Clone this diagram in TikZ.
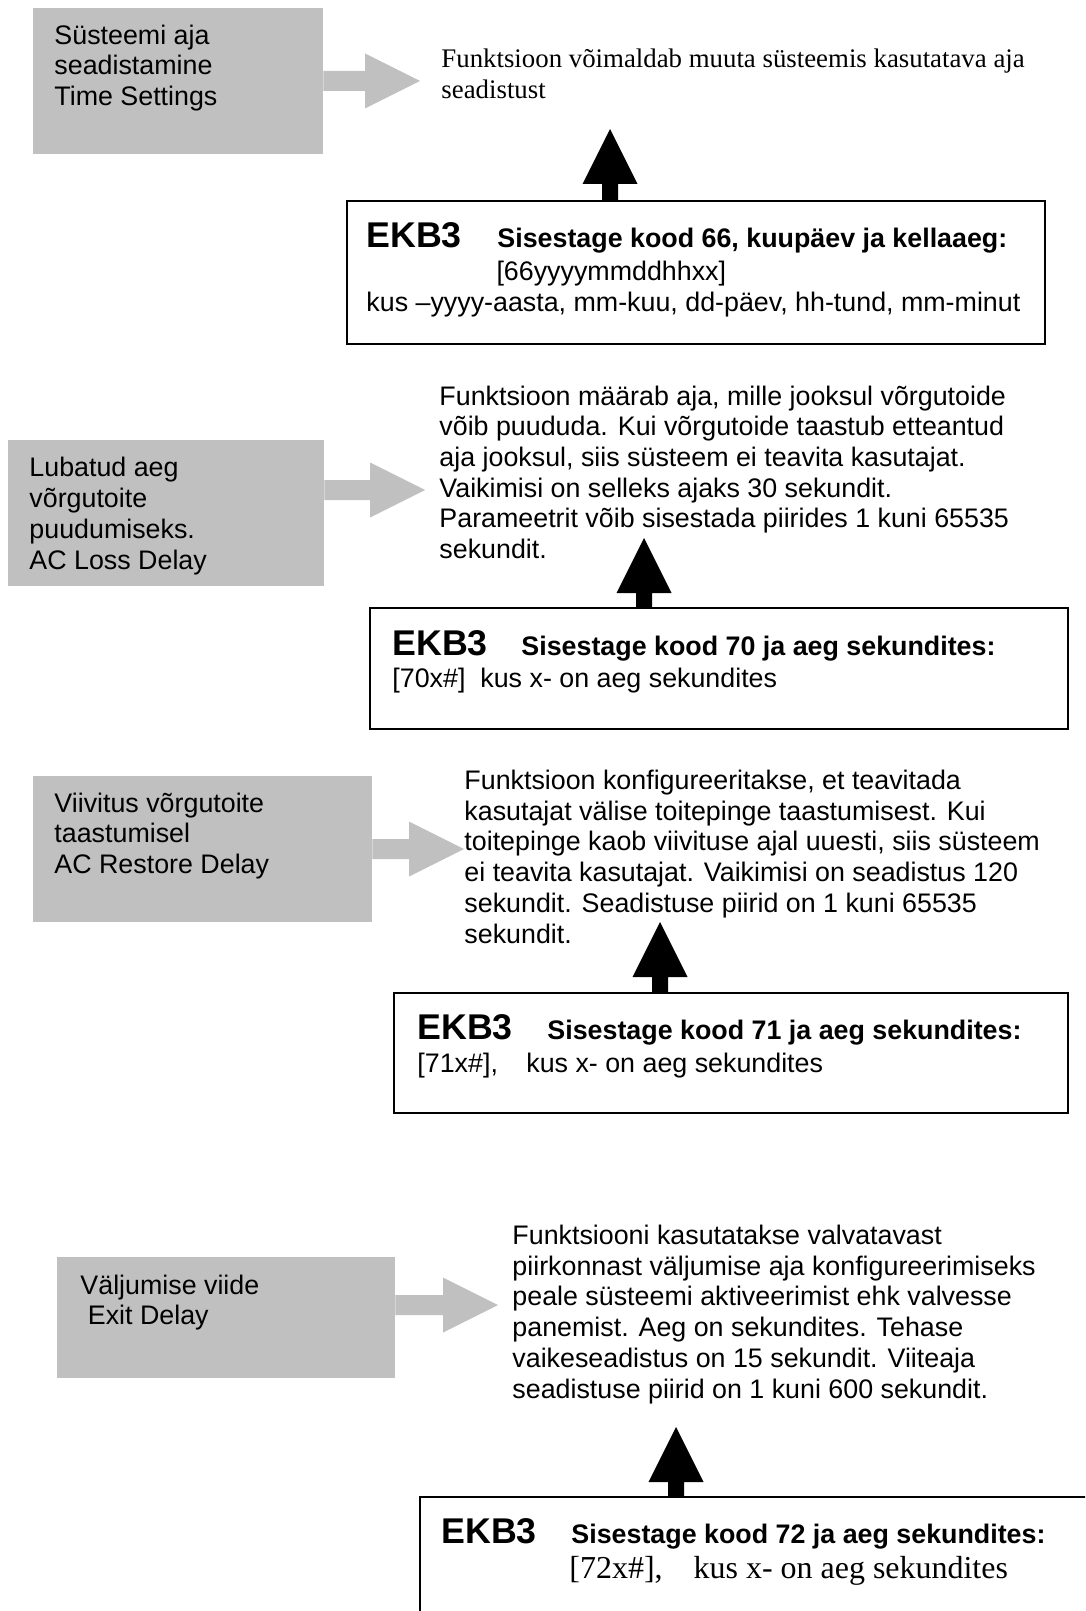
\documentclass[tikz,border=0pt]{standalone}
\usepackage{fontspec}
\setmainfont{Liberation Sans}
\newfontfamily\serifface{Liberation Serif}
\usetikzlibrary{calc,fit}
\definecolor{panelgray}{RGB}{192,192,192}

% grey block arrow from the right side of a panel (#1) to a tip point (#2)
\newcommand\grayblock[2]{%
  \fill[panelgray] ($(#1 |- #2)+(0,-10)$) -- ($(#2)+(-55,-10)$) -- ($(#2)+(-55,-27.5)$) -- (#2)
    -- ($(#2)+(-55,27.5)$) -- ($(#2)+(-55,10)$) -- ($(#1 |- #2)+(0,10)$) -- cycle;}
% black block arrow pointing up from the top of a key box (#1) to a tip point (#2)
\newcommand\blackblock[2]{%
  \fill[black] ($(#1 -| #2)+(-8,0)$) -- ($(#2)+(-8,55)$) -- ($(#2)+(-27.5,55)$) -- (#2)
    -- ($(#2)+(27.5,55)$) -- ($(#2)+(8,55)$) -- ($(#1 -| #2)+(8,0)$) -- cycle;}

\begin{document}
% multi-line text nodes are placed by the baseline of their last line
\begin{tikzpicture}[x=0.4474pt,y=-0.4474pt,
  panel/.style={fill=panelgray, draw=none, inner sep=0pt},
  keybox/.style={draw=black, line width=0.9pt, fill=white, inner sep=0pt},
  body/.style={anchor=base west, inner sep=0pt, align=left, font=\fontsize{12}{13.73}\selectfont},
  serifbody/.style={anchor=base west, inner sep=0pt, align=left, font=\serifface\fontsize{12}{13.78}\selectfont},
  ekb/.style={anchor=base west, inner sep=0pt, font=\bfseries\fontsize{16}{18}\selectfont},
  cmd/.style={anchor=base west, inner sep=0pt, font=\bfseries\fontsize{12}{13.73}\selectfont}]

\fill[white] (0,0) rectangle (1085,1611);
\clip (0,0) rectangle (1085,1611);

% ---------- Time Settings ----------
\node[panel, fit={(33,8) (323,154)}] (g1) {};
\node[body] (g1t) at (54,105.4) {Süsteemi aja\\seadistamine\\Time Settings};
\node[serifbody] (d1) at (441,98.5) {Funktsioon võimaldab muuta süsteemis kasutatava aja\\seadistust};
\coordinate (a1) at (420,81);
\grayblock{g1.east}{a1}
\node[keybox, fit={(347,201) (1045,344)}] (k1) {};
\coordinate (b1) at (610,129);
\blackblock{k1.north}{b1}
\node[ekb] (k1e) at (366,248) {EKB3};
\node[cmd] (k1s) at (497,248) {Sisestage kood 66, kuupäev ja kellaaeg:};
\node[body] (k1c) at (366,311.5) {\hspace*{58.2pt}[66yyyymmddhhxx]\\kus –yyyy-aasta, mm-kuu, dd-päev, hh-tund, mm-minut};

% ---------- AC Loss Delay ----------
\node[panel, fit={(8,440) (324,586)}] (g2) {};
\node[body] (g2t) at (29,569) {Lubatud aeg\\võrgutoite\\puudumiseks.\\AC Loss Delay};
\node[body] (d2) at (439,558.5) {Funktsioon määrab aja, mille jooksul võrgutoide\\võib puududa. Kui võrgutoide taastub etteantud\\aja jooksul, siis süsteem ei teavita kasutajat.\\Vaikimisi on selleks ajaks 30 sekundit.\\Parameetrit võib sisestada piirides 1 kuni 65535\\sekundit.};
\coordinate (a2) at (425,490);
\grayblock{g2.east}{a2}
\node[keybox, fit={(370,608) (1068,729)}] (k2) {};
\coordinate (b2) at (644,538);
\blackblock{k2.north}{b2}
\node[ekb] (k2e) at (392,655) {EKB3};
\node[cmd] (k2s) at (521,655) {Sisestage kood 70 ja aeg sekundites:};
\node[body] (k2c) at (392,687) {[70x\#]\ \ kus x- on aeg sekundites};

% ---------- AC Restore Delay ----------
\node[panel, fit={(33,776) (372,922)}] (g3) {};
\node[body] (g3t) at (54,873.4) {Viivitus võrgutoite\\taastumisel\\AC Restore Delay};
\node[body] (d3) at (464,943) {Funktsioon konfigureeritakse, et teavitada\\kasutajat välise toitepinge taastumisest. Kui\\toitepinge kaob viivituse ajal uuesti, siis süsteem\\ei teavita kasutajat. Vaikimisi on seadistus 120\\sekundit. Seadistuse piirid on 1 kuni 65535\\sekundit.};
\coordinate (a3) at (464,849);
\grayblock{g3.east}{a3}
\node[keybox, fit={(394,993) (1068,1113)}] (k3) {};
\coordinate (b3) at (660,922);
\blackblock{k3.north}{b3}
\node[ekb] (k3e) at (417,1039) {EKB3};
\node[cmd] (k3s) at (547,1039) {Sisestage kood 71 ja aeg sekundites:};
\node[body] (k3c) at (417,1072) {[71x\#],\hspace{12.7pt}kus x- on aeg sekundites};

% ---------- Exit Delay ----------
\node[panel, fit={(57,1257) (395,1378)}] (g4) {};
\node[body] (g4t) at (80,1324.7) {Väljumise viide\\\hspace*{0.278em}Exit Delay};
\node[body] (d4) at (512,1398) {Funktsiooni kasutatakse valvatavast\\piirkonnast väljumise aja konfigureerimiseks\\peale süsteemi aktiveerimist ehk valvesse\\panemist. Aeg on sekundites. Tehase\\vaikeseadistus on 15 sekundit. Viiteaja\\seadistuse piirid on 1 kuni 600 sekundit.};
\coordinate (a4) at (498,1305);
\grayblock{g4.east}{a4}
\node[keybox, fit={(420,1497) (1120,1650)}] (k4) {};
\coordinate (b4) at (676,1427);
\blackblock{k4.north}{b4}
\node[ekb] (k4e) at (441,1543) {EKB3};
\node[cmd] (k4s) at (571,1543) {Sisestage kood 72 ja aeg sekundites:};
\node[anchor=base west, inner sep=0pt, font=\serifface\fontsize{14.3}{16}\selectfont] (k4c) at (569,1578) {[72x\#],\hspace{13.9pt}kus x- on aeg sekundites};
\end{tikzpicture}
\end{document}
